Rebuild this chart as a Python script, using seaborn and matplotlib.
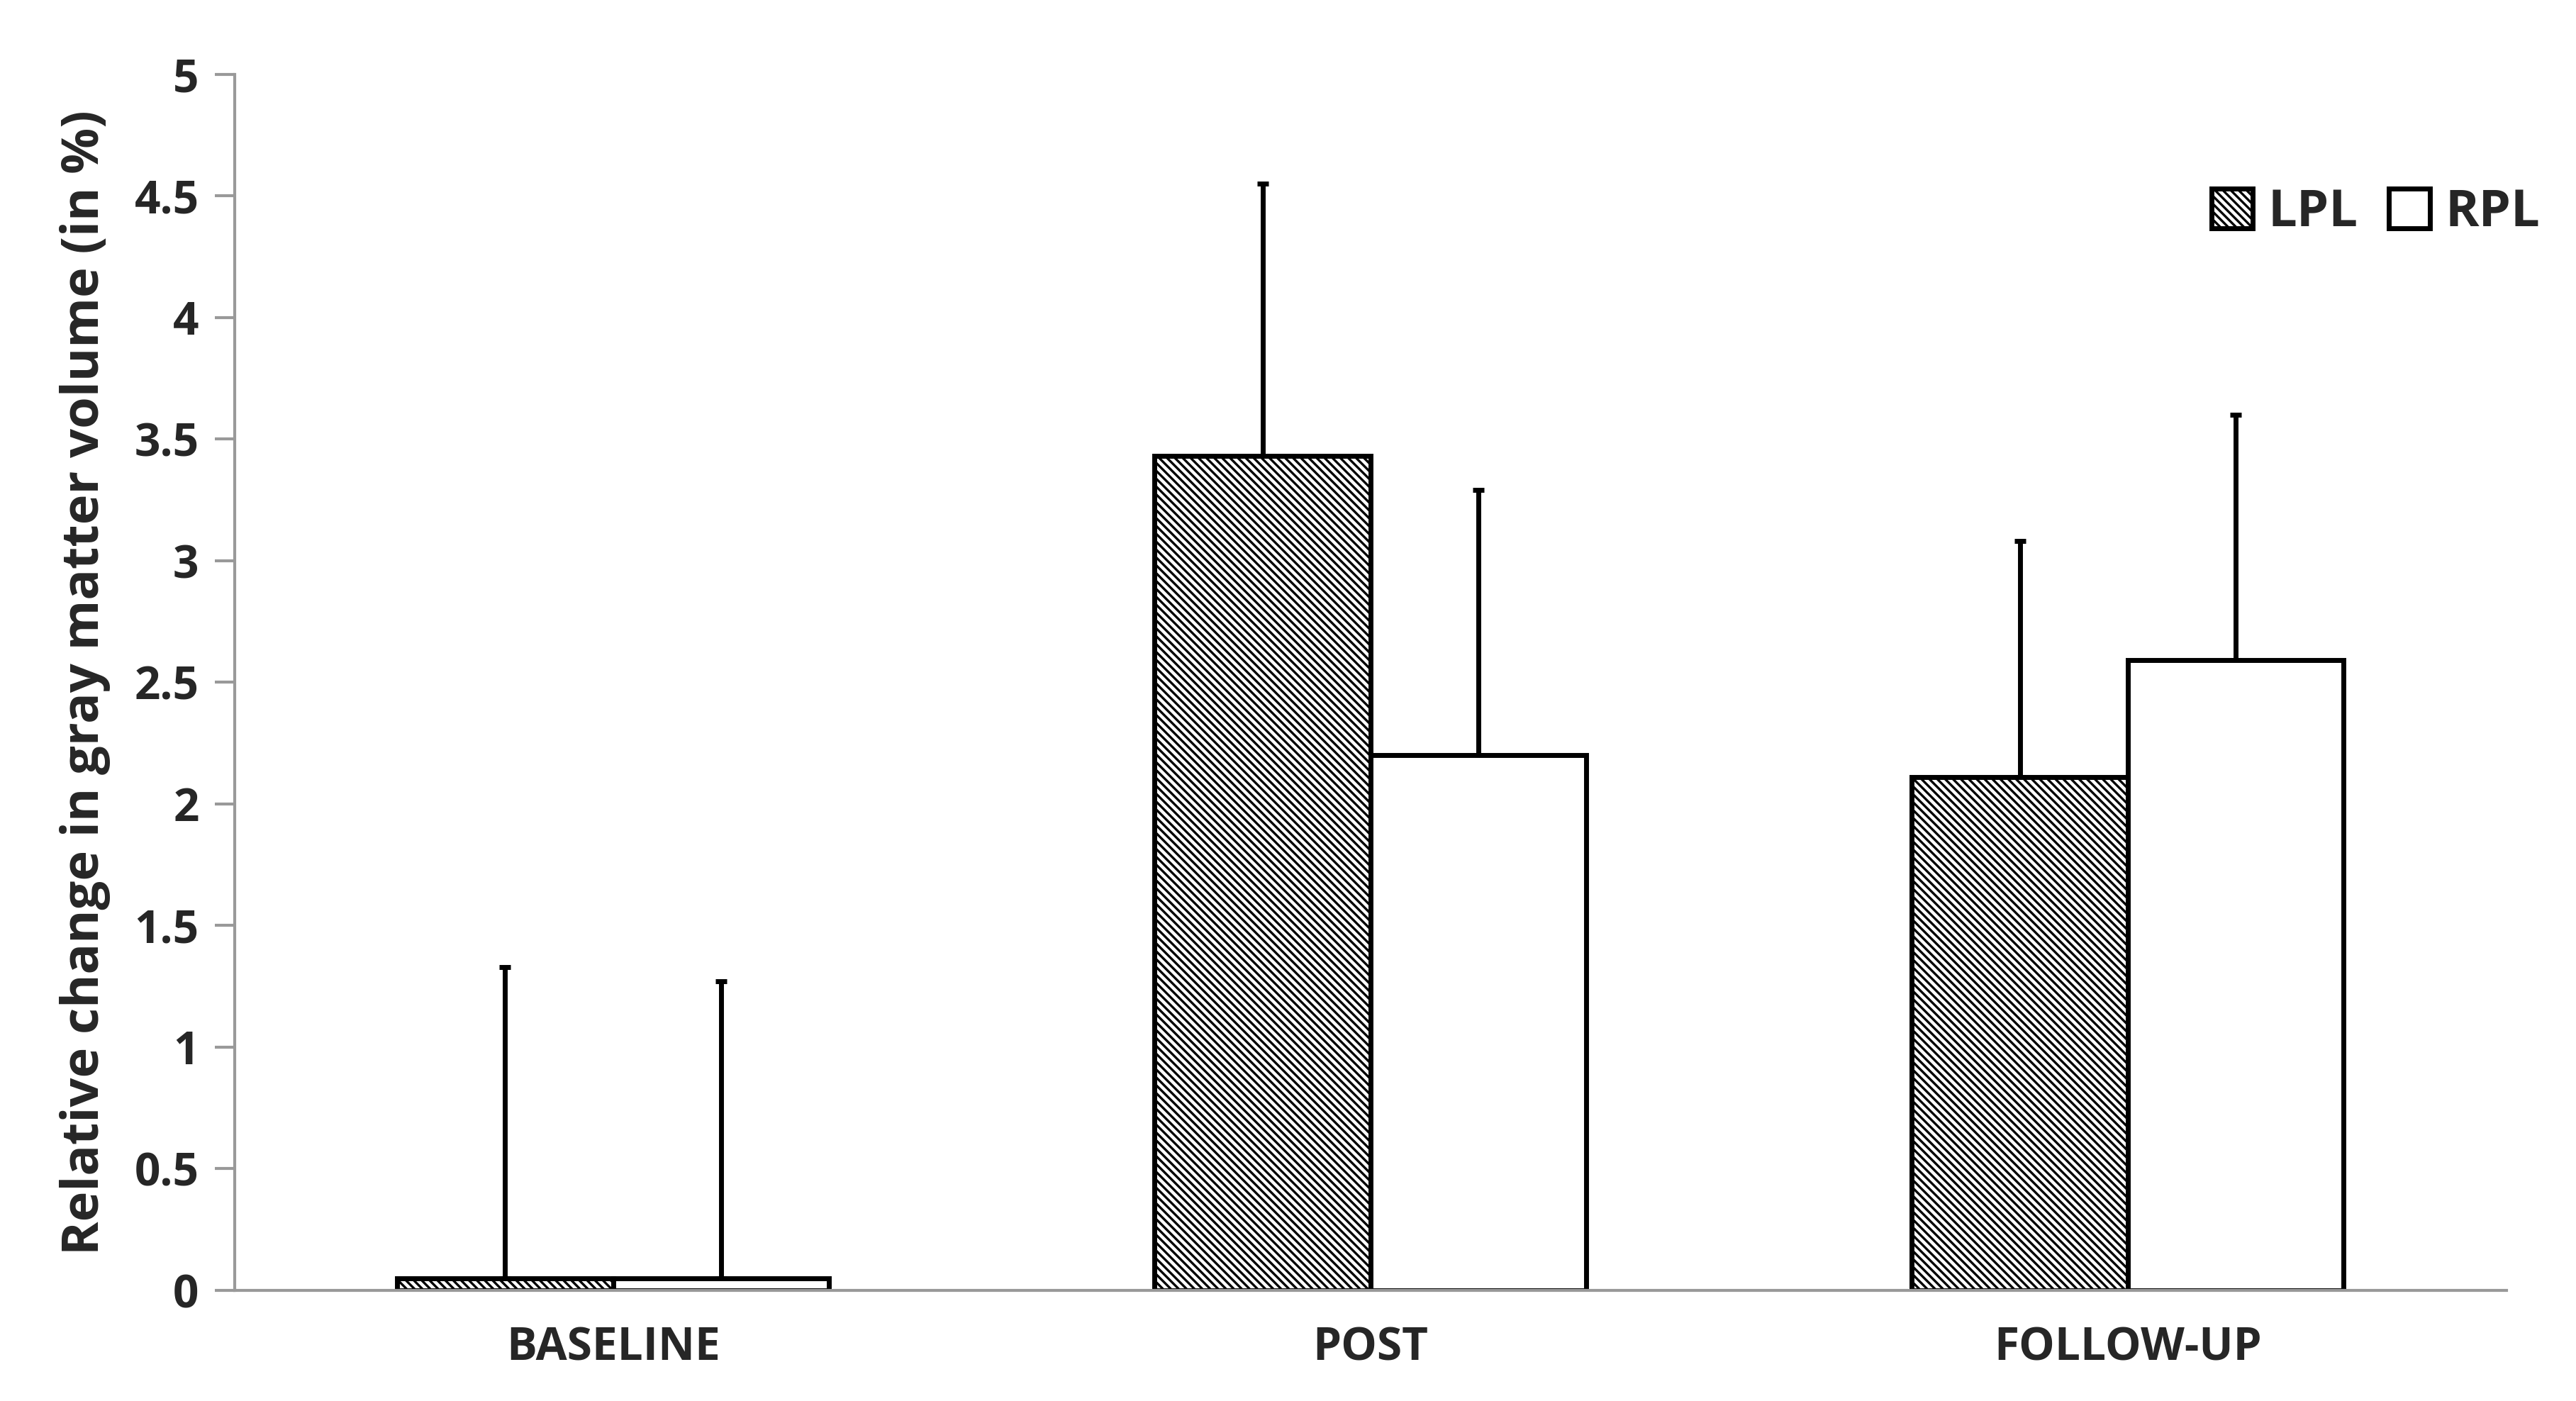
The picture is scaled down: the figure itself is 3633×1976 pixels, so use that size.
import numpy as np
import pandas as pd
import matplotlib
matplotlib.use("Agg")
import matplotlib.pyplot as plt
import seaborn as sns

phases = ["BASELINE", "POST", "FOLLOW-UP"]
groups = ["LPL", "RPL"]
lpl_mean = [0.05, 3.43, 2.11]
rpl_mean = [0.05, 2.20, 2.59]
lpl_err = [1.28, 1.12, 0.97]
rpl_err = [1.22, 1.09, 1.01]

df = pd.DataFrame({
    "phase": phases * 2,
    "group": ["LPL"] * 3 + ["RPL"] * 3,
    "value": lpl_mean + rpl_mean,
})

sns.set_style("white")
plt.rcParams["font.family"] = ["Open Sans", "DejaVu Sans"]
plt.rcParams["hatch.linewidth"] = 1.2

fig = plt.figure(figsize=(18.165, 9.88), dpi=200)
ax = fig.add_axes([0.091, 0.079, 0.882, 0.868])

sns.barplot(data=df, x="phase", y="value", hue="group", order=phases,
            hue_order=groups, palette=["white", "white"], width=0.57,
            edgecolor="black", linewidth=2.5, errorbar=None, ax=ax)

hatch = "\\\\\\\\\\\\"
errs = {"LPL": lpl_err, "RPL": rpl_err}
for cont, g in zip(ax.containers, groups):
    for i, bar in enumerate(cont):
        if g == "LPL":
            bar.set_hatch(hatch)
        x = bar.get_x() + bar.get_width() / 2
        h = bar.get_height()
        ax.errorbar(x, h, yerr=[[0], [errs[g][i]]], fmt="none", ecolor="black",
                    elinewidth=2.5, capsize=3, capthick=2.5, zorder=0)

ax.set_ylim(0, 5)
ax.set_xlim(-0.5, 2.5)
ax.set_yticks(np.arange(0, 5.01, 0.5))
ax.set_yticklabels(["0", "0.5", "1", "1.5", "2", "2.5", "3", "3.5", "4", "4.5", "5"])
ax.set_xticks([0, 1, 2])
ax.set_xticklabels(phases)
ax.set_xticks([-0.5, 0.5, 1.5, 2.5], minor=True)
ax.tick_params(axis="x", which="major", length=0, pad=18)
ax.tick_params(axis="x", which="minor", length=10, color="#999999", width=1.5, direction="out")
ax.tick_params(axis="y", length=10, color="#999999", width=1.5, direction="out", left=True, pad=8)
for lab in ax.get_xticklabels() + ax.get_yticklabels():
    lab.set_fontsize(23)
    lab.set_fontweight("bold")
ax.set_xlabel("")
ax.set_ylabel("Relative change in gray matter volume (in %)", fontsize=26,
              fontweight="bold", labelpad=12)
sns.despine(ax=ax)
for s in ["left", "bottom"]:
    ax.spines[s].set_color("#999999")
    ax.spines[s].set_linewidth(1.5)

leg = ax.legend(loc="upper right", bbox_to_anchor=(1.035, 0.945), ncol=2, frameon=False,
                prop={"size": 26, "weight": "bold"}, handlelength=0.8, handleheight=0.8,
                columnspacing=0.6, handletextpad=0.3)
leg.legend_handles[0].set_hatch(hatch)

fig.savefig("out.png", dpi=200)
